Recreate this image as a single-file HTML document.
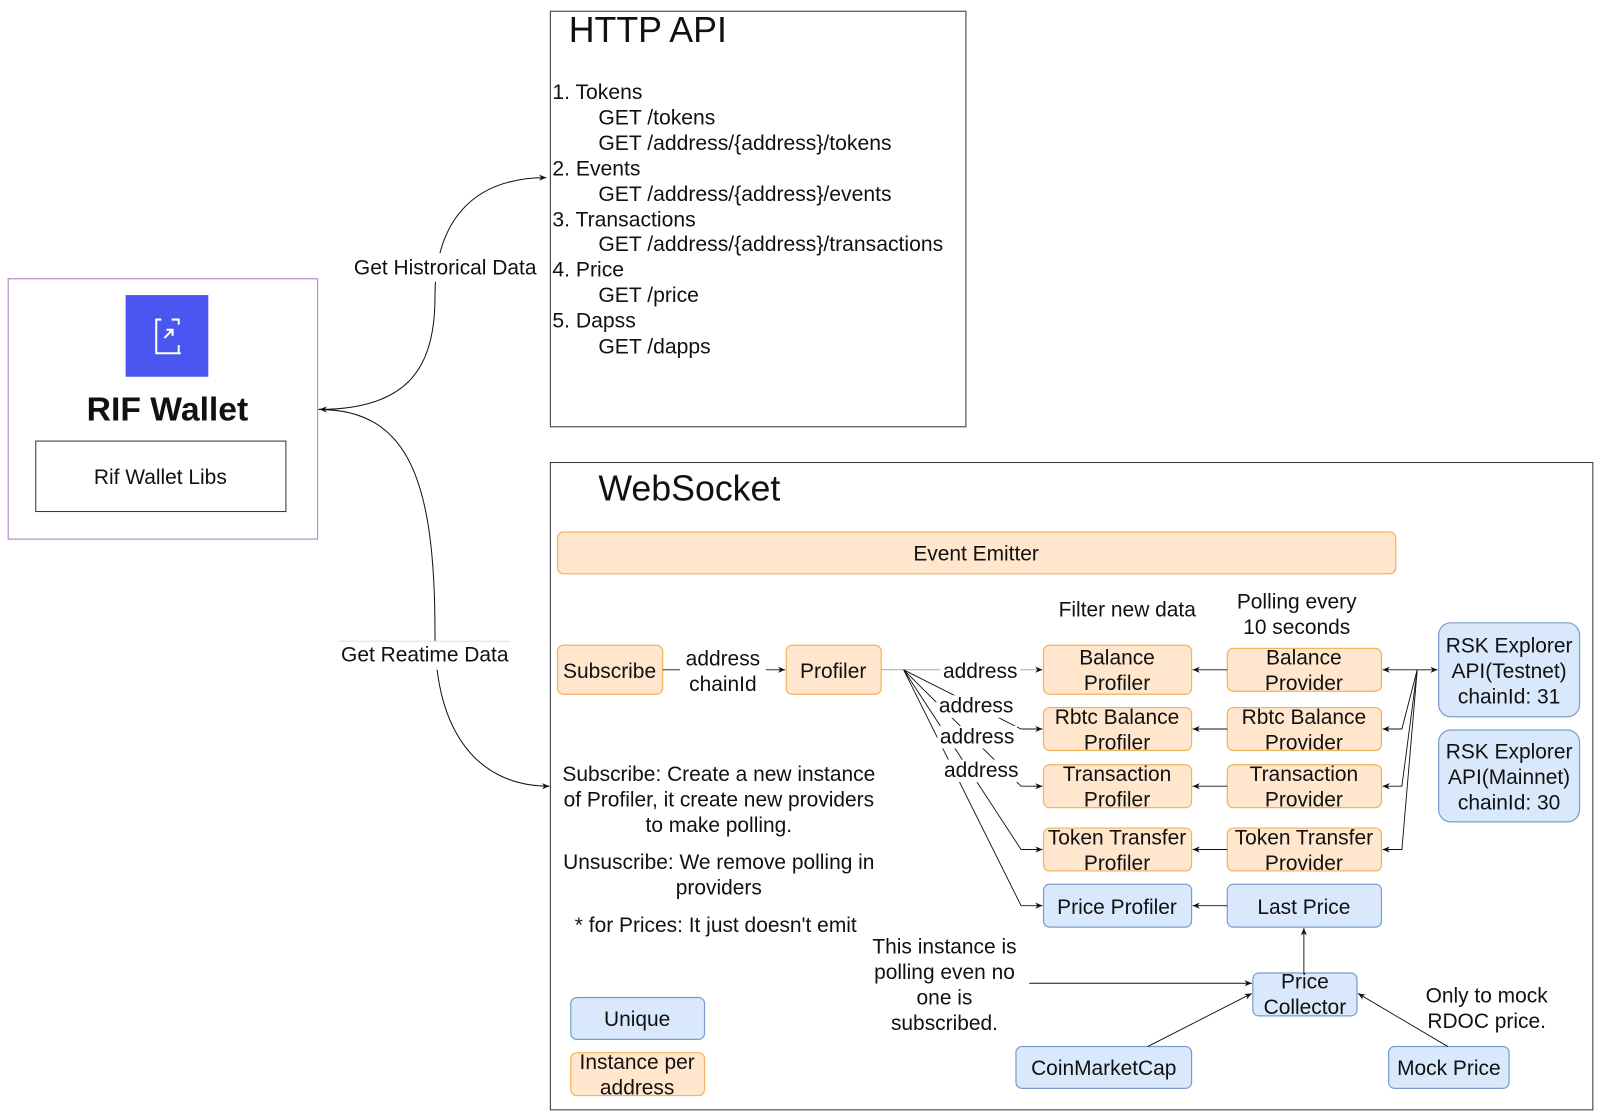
<!DOCTYPE html>
<html><head><meta charset="utf-8"><style>
html,body{margin:0;padding:0;background:#fff}
svg{display:block}
text{font-family:"Liberation Sans",sans-serif;fill:#111}
</style></head><body>
<svg width="1600" height="1117" viewBox="0 0 1567 1094" xmlns="http://www.w3.org/2000/svg">
<defs>
<marker id="a" markerWidth="8" markerHeight="8" refX="7" refY="4" orient="auto" markerUnits="userSpaceOnUse">
<path d="M0,1 L7,4 L0,7 L2,4 Z" fill="#111"/></marker>
</defs>
<!-- Left wallet -->
<rect x="8" y="273" width="303" height="255" fill="#fff" stroke="#b591c9" stroke-width="1.2"/>
<rect x="123" y="289" width="81" height="80" fill="#4b55f0"/>
<g stroke="#fff" stroke-width="2" fill="none">
<path d="M158,313 h-5 v33 h24"/><path d="M168,313 h7 v5"/><path d="M175,338 v8"/>
<path d="M161,331 l8,-8 M163,323 h6 v6"/>
</g>
<text x="164" y="412" font-size="33" font-weight="bold" text-anchor="middle">RIF Wallet</text>
<rect x="35" y="432" width="245" height="69" fill="#fff" stroke="#333" stroke-width="1"/>
<text x="157" y="474" font-size="20.5" text-anchor="middle">Rif Wallet Libs</text>

<!-- curves -->
<path d="M312,401 C400,401 426,360 426,290 C426,220 460,174 535,174" fill="none" stroke="#111" stroke-width="1" marker-end="url(#a)"/>
<path d="M312,401 C400,401 426,470 426,620 C426,720 470,770 538,770" fill="none" stroke="#111" stroke-width="1" marker-end="url(#a)"/>
<path d="M320,401 L313,401" stroke="#111" marker-end="url(#a)"/>
<rect x="340" y="248" width="192" height="28" fill="#fff"/>
<text x="436" y="269" font-size="20.5" text-anchor="middle">Get Histrorical Data</text>
<rect x="332" y="628" width="168" height="28" fill="#fff"/>
<line x1="332" y1="628" x2="500" y2="628" stroke="#ddd"/>
<text x="416" y="648" font-size="20.5" text-anchor="middle">Get Reatime Data</text>

<!-- HTTP API -->
<rect x="539" y="11" width="407" height="407" fill="#fff" stroke="#333" stroke-width="1"/>
<text x="557" y="41" font-size="35">HTTP API</text>
<g font-size="20.7">
<text x="541" y="97">1. Tokens</text>
<text x="586" y="122">GET /tokens</text>
<text x="586" y="147">GET /address/{address}/tokens</text>
<text x="541" y="172">2. Events</text>
<text x="586" y="197">GET /address/{address}/events</text>
<text x="541" y="222">3. Transactions</text>
<text x="586" y="246">GET /address/{address}/transactions</text>
<text x="541" y="271">4. Price</text>
<text x="586" y="296">GET /price</text>
<text x="541" y="321">5. Dapss</text>
<text x="586" y="346">GET /dapps</text>
</g>

<!-- WebSocket -->
<rect x="539" y="453" width="1021" height="634" fill="#fff" stroke="#333" stroke-width="1"/>
<text x="586" y="490" font-size="35">WebSocket</text>

<g stroke="#efb45c" stroke-width="1.2" fill="#ffe6cc">
<rect x="546" y="521" width="821" height="41" rx="6"/>
<rect x="546" y="632" width="103" height="48" rx="6"/>
<rect x="770" y="632" width="93" height="48" rx="6"/>
<rect x="1022" y="632" width="145" height="48" rx="6"/>
<rect x="1022" y="693" width="145" height="42" rx="6"/>
<rect x="1022" y="749" width="145" height="42" rx="6"/>
<rect x="1022" y="811" width="145" height="42" rx="6"/>
<rect x="1202" y="635" width="151" height="42" rx="6"/>
<rect x="1202" y="693" width="151" height="42" rx="6"/>
<rect x="1202" y="749" width="151" height="42" rx="6"/>
<rect x="1202" y="811" width="151" height="42" rx="6"/>
<rect x="559" y="1031" width="131" height="42" rx="6"/>
</g>
<g stroke="#7a9dcf" stroke-width="1.2" fill="#dae8fc">
<rect x="1022" y="866" width="145" height="42" rx="6"/>
<rect x="1202" y="866" width="151" height="42" rx="6"/>
<rect x="1409" y="610" width="138" height="92" rx="12"/>
<rect x="1409" y="715" width="138" height="90" rx="12"/>
<rect x="1227" y="953" width="102" height="42" rx="6"/>
<rect x="995" y="1025" width="172" height="41" rx="6"/>
<rect x="1360" y="1025" width="118" height="41" rx="6"/>
<rect x="559" y="977" width="131" height="41" rx="6"/>
</g>

<g font-size="20.5" text-anchor="middle">
<text x="956" y="549">Event Emitter</text>
<text x="597" y="664">Subscribe</text>
<text x="816" y="664">Profiler</text>
<text x="1094" y="651">Balance</text><text x="1094" y="676">Profiler</text>
<text x="1094" y="709">Rbtc Balance</text><text x="1094" y="734">Profiler</text>
<text x="1094" y="765">Transaction</text><text x="1094" y="790">Profiler</text>
<text x="1094" y="827">Token Transfer</text><text x="1094" y="852">Profiler</text>
<text x="1094" y="895">Price Profiler</text>
<text x="1277" y="651">Balance</text><text x="1277" y="676">Provider</text>
<text x="1277" y="709">Rbtc Balance</text><text x="1277" y="734">Provider</text>
<text x="1277" y="765">Transaction</text><text x="1277" y="790">Provider</text>
<text x="1277" y="827">Token Transfer</text><text x="1277" y="852">Provider</text>
<text x="1277" y="895">Last Price</text>
<text x="1478" y="639">RSK Explorer</text><text x="1478" y="664">API(Testnet)</text><text x="1478" y="689">chainId: 31</text>
<text x="1478" y="743">RSK Explorer</text><text x="1478" y="768">API(Mainnet)</text><text x="1478" y="793">chainId: 30</text>
<text x="1278" y="968">Price</text><text x="1278" y="993">Collector</text>
<text x="1081" y="1053">CoinMarketCap</text>
<text x="1419" y="1053">Mock Price</text>
<text x="624" y="1005">Unique</text>
<text x="624" y="1047">Instance per</text><text x="624" y="1072">address</text>
<text x="1104" y="604">Filter new data</text>
<text x="1270" y="596">Polling  every</text><text x="1270" y="621">10 seconds</text>
<text x="704" y="765">Subscribe: Create a new instance</text>
<text x="704" y="790">of Profiler, it create new providers</text>
<text x="704" y="815">to make polling.</text>
<text x="704" y="851">Unsuscribe: We remove polling in</text>
<text x="704" y="876">providers</text>
<text x="701" y="913">* for Prices: It just doesn't emit</text>
<text x="925" y="934">This instance is</text><text x="925" y="959">polling even no</text><text x="925" y="984">one is</text><text x="925" y="1009">subscribed.</text>
<text x="1456" y="982">Only to mock</text><text x="1456" y="1007">RDOC price.</text>
</g>

<!-- connectors -->
<g stroke="#111" stroke-width="0.9" fill="none">
<path d="M649,656 H769" marker-end="url(#a)"/>
<path d="M863,656 H1021" stroke="#999" marker-end="url(#a)"/>
<path d="M885,656 L1000,714 H1021" marker-end="url(#a)"/>
<path d="M885,656 L1000,770 H1021" marker-end="url(#a)"/>
<path d="M885,656 L1000,832 H1021" marker-end="url(#a)"/>
<path d="M885,656 L1000,887 H1021" marker-end="url(#a)"/>
<path d="M1202,656 H1168" marker-end="url(#a)"/>
<path d="M1202,714 H1168" marker-end="url(#a)"/>
<path d="M1202,770 H1168" marker-end="url(#a)"/>
<path d="M1202,832 H1168" marker-end="url(#a)"/>
<path d="M1202,887 H1168" marker-end="url(#a)"/>
<path d="M1380,656 H1354" marker-end="url(#a)"/>
<path d="M1380,656 H1408" marker-end="url(#a)"/>
<path d="M1388,656 L1373,714 H1354" marker-end="url(#a)"/>
<path d="M1388,656 L1373,770 H1354" marker-end="url(#a)"/>
<path d="M1388,656 L1373,832 H1354" marker-end="url(#a)"/>
<path d="M1277,953 V909" marker-end="url(#a)"/>
<path d="M1008,963 H1226" marker-end="url(#a)"/>
<path d="M1124,1025 L1226,973" marker-end="url(#a)"/>
<path d="M1418,1025 L1330,973" marker-end="url(#a)"/>
</g>
<g font-size="20.5" text-anchor="middle">
<rect x="921" y="645" width="78" height="22" fill="#fff"/>
<text x="960" y="664">address</text>
<rect x="917" y="681" width="78" height="22" fill="#fff"/>
<text x="956" y="698">address</text>
<rect x="918" y="711" width="78" height="22" fill="#fff"/>
<text x="957" y="728">address</text>
<rect x="922" y="744" width="78" height="22" fill="#fff"/>
<text x="961" y="761">address</text>
<rect x="666" y="634" width="84" height="46" fill="#fff"/>
<text x="708" y="652">address</text><text x="708" y="677">chainId</text>
</g>
</svg>
</body></html>
